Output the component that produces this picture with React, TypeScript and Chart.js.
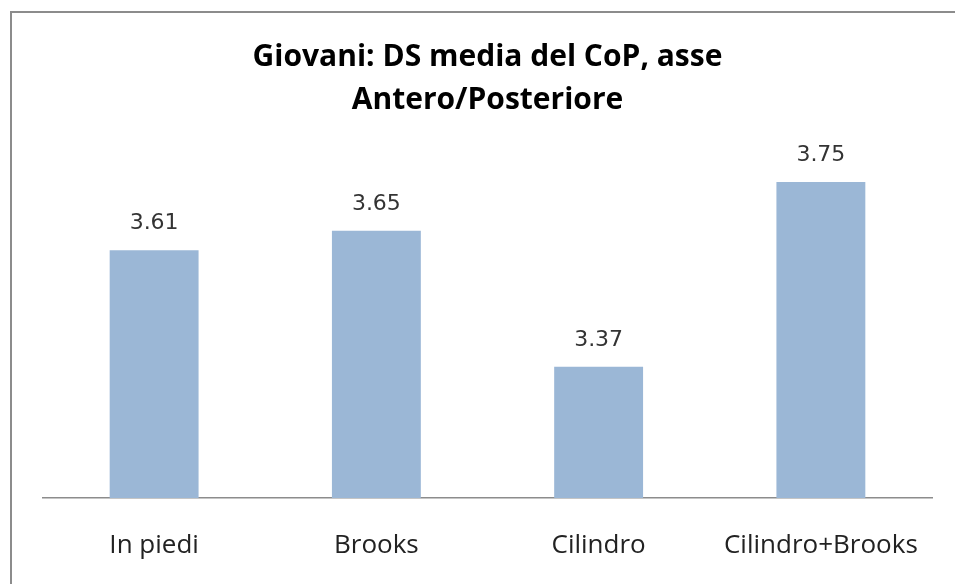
import React, { useEffect, useRef } from "react";
import { Chart, registerables } from "chart.js";

Chart.register(...registerables);

const categories = ["In piedi", "Brooks", "Cilindro", "Cilindro+Brooks"];
const values = [3.61, 3.65, 3.37, 3.75];
const titleLines = ["Giovani: DS media del CoP, asse", "Antero/Posteriore"];
const yMin = 3.1;
const yMax = 3.8;

const framePlugin = {
  id: "frame",
  beforeDraw(chart: any) {
    const { ctx, width, height } = chart;
    ctx.save();
    ctx.fillStyle = "#ffffff";
    ctx.fillRect(0, 0, width, height);
    ctx.strokeStyle = "#8c8c8c";
    ctx.lineWidth = 2;
    ctx.strokeRect(11, 12, width + 20, height + 20);
    ctx.restore();
  },
};

const valueLabelPlugin = {
  id: "valueLabels",
  afterDatasetsDraw(chart: any) {
    const { ctx } = chart;
    const meta = chart.getDatasetMeta(0);
    const data = chart.data.datasets[0].data as number[];
    ctx.save();
    ctx.font = "22px 'DejaVu Sans'";
    ctx.fillStyle = "#333333";
    ctx.textAlign = "center";
    ctx.textBaseline = "alphabetic";
    meta.data.forEach((bar: any, i: number) => {
      ctx.fillText(data[i].toFixed(2), bar.x, bar.y - 21);
    });
    ctx.restore();
  },
};

export default function App() {
  const ref = useRef<HTMLCanvasElement | null>(null);

  useEffect(() => {
    if (!ref.current) return;
    const chart = new Chart(ref.current, {
      type: "bar",
      data: {
        labels: categories,
        datasets: [
          {
            data: values,
            backgroundColor: "#9BB7D6",
            borderWidth: 0,
            barPercentage: 0.4,
            categoryPercentage: 1,
          },
        ],
      },
      options: {
        responsive: false,
        animation: false,
        layout: { padding: { left: 43, right: 23, top: 0, bottom: 0 } },
        plugins: {
          legend: { display: false },
          tooltip: { enabled: false },
          title: {
            display: true,
            text: titleLines,
            color: "#000000",
            font: { family: "'Open Sans'", size: 30, weight: "bold", lineHeight: 1.43 },
            padding: { top: 36, bottom: 36 },
          },
        },
        scales: {
          x: {
            grid: { display: false },
            border: { display: true, color: "#8c8c8c", width: 1.5 },
            ticks: {
              color: "#222222",
              font: { family: "'Open Sans'", size: 26 },
              padding: 24,
              maxRotation: 0,
            },
            afterFit(scale: any) {
              scale.height = 86;
            },
          },
          y: {
            display: false,
            min: yMin,
            max: yMax,
          },
        },
      },
      plugins: [framePlugin, valueLabelPlugin],
    });
    return () => chart.destroy();
  }, []);

  return (
    <div style={{ position: "absolute", left: 0, top: 0, width: 955, height: 584 }}>
      <canvas ref={ref} width={955} height={584} />
    </div>
  );
}
